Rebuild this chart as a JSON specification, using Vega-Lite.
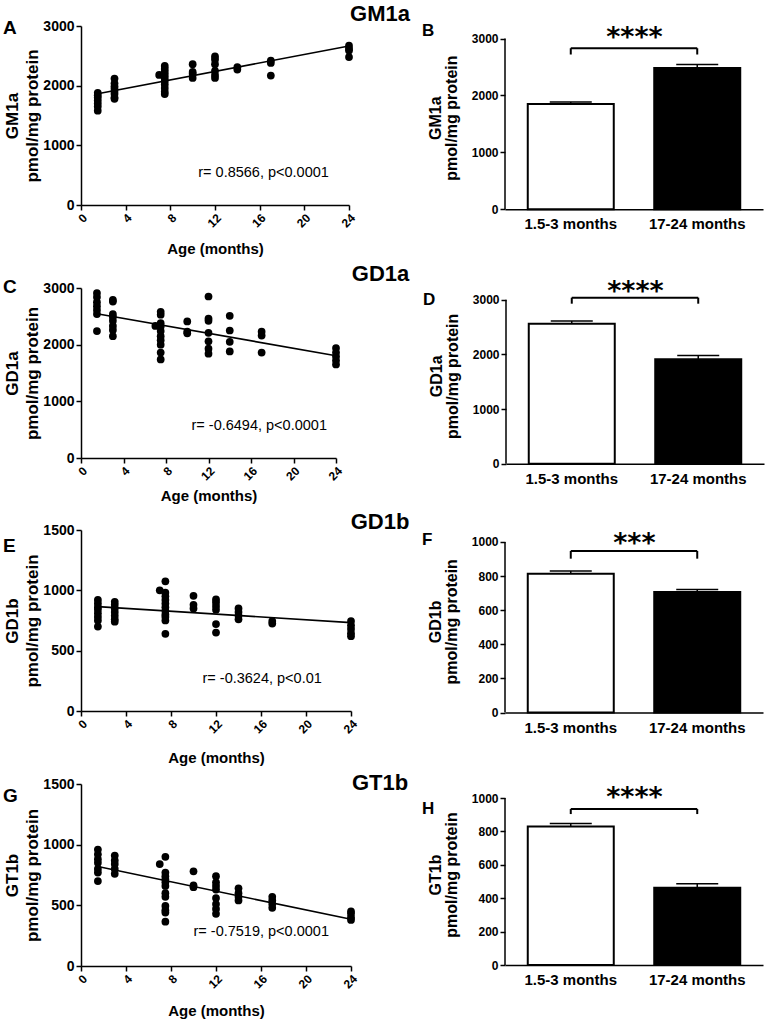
{
  "$schema": "https://vega.github.io/schema/vega-lite/v6.json",
  "padding": {"left": 3, "top": 2, "right": 4, "bottom": 1},
  "background": "white",
  "spacing": 6,
  "config": {
    "view": {"stroke": null},
    "font": "Liberation Sans",
    "axis": {"domainColor": "black", "domainWidth": 1.5, "tickColor": "black", "tickWidth": 1.5, "tickSize": 5, "labelFont": "Liberation Sans", "labelFontWeight": "bold", "labelColor": "black", "titleFont": "Liberation Sans", "titleFontWeight": "bold", "titleColor": "black", "grid": false, "labelPadding": 2, "labelFlush": false, "labelOverlap": false},
    "title": {"font": "Liberation Sans", "fontWeight": "bold", "color": "black"}
  },
  "datasets": {
    "pts": [
      {"g":"GM1a","age":1.5,"v":1880},{"g":"GM1a","age":1.5,"v":1840},{"g":"GM1a","age":1.5,"v":1800},{"g":"GM1a","age":1.5,"v":1750},{"g":"GM1a","age":1.5,"v":1700},{"g":"GM1a","age":1.5,"v":1650},{"g":"GM1a","age":1.5,"v":1580},
      {"g":"GM1a","age":3,"v":2120},{"g":"GM1a","age":3,"v":2040},{"g":"GM1a","age":3,"v":1990},{"g":"GM1a","age":3,"v":1950},{"g":"GM1a","age":3,"v":1900},{"g":"GM1a","age":3,"v":1860},{"g":"GM1a","age":3,"v":1800},{"g":"GM1a","age":3,"v":1780},
      {"g":"GM1a","age":7,"v":2180},
      {"g":"GM1a","age":7.5,"v":2330},{"g":"GM1a","age":7.5,"v":2280},{"g":"GM1a","age":7.5,"v":2230},{"g":"GM1a","age":7.5,"v":2180},{"g":"GM1a","age":7.5,"v":2130},{"g":"GM1a","age":7.5,"v":2080},{"g":"GM1a","age":7.5,"v":2020},{"g":"GM1a","age":7.5,"v":1960},{"g":"GM1a","age":7.5,"v":1900},{"g":"GM1a","age":7.5,"v":1860},
      {"g":"GM1a","age":10,"v":2360},{"g":"GM1a","age":10,"v":2230},{"g":"GM1a","age":10,"v":2200},{"g":"GM1a","age":10,"v":2130},
      {"g":"GM1a","age":12,"v":2490},{"g":"GM1a","age":12,"v":2440},{"g":"GM1a","age":12,"v":2360},{"g":"GM1a","age":12,"v":2250},{"g":"GM1a","age":12,"v":2180},{"g":"GM1a","age":12,"v":2130},
      {"g":"GM1a","age":14,"v":2310},{"g":"GM1a","age":14,"v":2270},
      {"g":"GM1a","age":17,"v":2420},{"g":"GM1a","age":17,"v":2380},{"g":"GM1a","age":17,"v":2170},
      {"g":"GM1a","age":24,"v":2670},{"g":"GM1a","age":24,"v":2620},{"g":"GM1a","age":24,"v":2590},{"g":"GM1a","age":24,"v":2480},

      {"g":"GD1a","age":1.5,"v":2910},{"g":"GD1a","age":1.5,"v":2840},{"g":"GD1a","age":1.5,"v":2750},{"g":"GD1a","age":1.5,"v":2680},{"g":"GD1a","age":1.5,"v":2610},{"g":"GD1a","age":1.5,"v":2540},{"g":"GD1a","age":1.5,"v":2240},
      {"g":"GD1a","age":3,"v":2790},{"g":"GD1a","age":3,"v":2760},{"g":"GD1a","age":3,"v":2540},{"g":"GD1a","age":3,"v":2490},{"g":"GD1a","age":3,"v":2420},{"g":"GD1a","age":3,"v":2330},{"g":"GD1a","age":3,"v":2260},{"g":"GD1a","age":3,"v":2150},
      {"g":"GD1a","age":7,"v":2330},
      {"g":"GD1a","age":7.5,"v":2580},{"g":"GD1a","age":7.5,"v":2530},{"g":"GD1a","age":7.5,"v":2380},{"g":"GD1a","age":7.5,"v":2320},{"g":"GD1a","age":7.5,"v":2240},{"g":"GD1a","age":7.5,"v":2150},{"g":"GD1a","age":7.5,"v":2080},{"g":"GD1a","age":7.5,"v":2000},{"g":"GD1a","age":7.5,"v":1860},{"g":"GD1a","age":7.5,"v":1740},
      {"g":"GD1a","age":10,"v":2410},{"g":"GD1a","age":10,"v":2230},{"g":"GD1a","age":10,"v":2200},
      {"g":"GD1a","age":12,"v":2850},{"g":"GD1a","age":12,"v":2460},{"g":"GD1a","age":12,"v":2420},{"g":"GD1a","age":12,"v":2210},{"g":"GD1a","age":12,"v":2060},{"g":"GD1a","age":12,"v":1930},{"g":"GD1a","age":12,"v":1840},
      {"g":"GD1a","age":14,"v":2510},{"g":"GD1a","age":14,"v":2250},{"g":"GD1a","age":14,"v":2050},{"g":"GD1a","age":14,"v":1880},
      {"g":"GD1a","age":17,"v":2230},{"g":"GD1a","age":17,"v":2160},{"g":"GD1a","age":17,"v":1860},
      {"g":"GD1a","age":24,"v":1940},{"g":"GD1a","age":24,"v":1860},{"g":"GD1a","age":24,"v":1790},{"g":"GD1a","age":24,"v":1720},{"g":"GD1a","age":24,"v":1650},

      {"g":"GD1b","age":1.5,"v":920},{"g":"GD1b","age":1.5,"v":890},{"g":"GD1b","age":1.5,"v":860},{"g":"GD1b","age":1.5,"v":840},{"g":"GD1b","age":1.5,"v":810},{"g":"GD1b","age":1.5,"v":780},{"g":"GD1b","age":1.5,"v":750},{"g":"GD1b","age":1.5,"v":700},
      {"g":"GD1b","age":3,"v":905},{"g":"GD1b","age":3,"v":880},{"g":"GD1b","age":3,"v":850},{"g":"GD1b","age":3,"v":820},{"g":"GD1b","age":3,"v":790},{"g":"GD1b","age":3,"v":760},{"g":"GD1b","age":3,"v":740},
      {"g":"GD1b","age":7,"v":1000},
      {"g":"GD1b","age":7.5,"v":1075},{"g":"GD1b","age":7.5,"v":980},{"g":"GD1b","age":7.5,"v":950},{"g":"GD1b","age":7.5,"v":920},{"g":"GD1b","age":7.5,"v":890},{"g":"GD1b","age":7.5,"v":860},{"g":"GD1b","age":7.5,"v":830},{"g":"GD1b","age":7.5,"v":800},{"g":"GD1b","age":7.5,"v":780},{"g":"GD1b","age":7.5,"v":750},{"g":"GD1b","age":7.5,"v":640},
      {"g":"GD1b","age":10,"v":955},{"g":"GD1b","age":10,"v":880},{"g":"GD1b","age":10,"v":850},
      {"g":"GD1b","age":12,"v":925},{"g":"GD1b","age":12,"v":900},{"g":"GD1b","age":12,"v":870},{"g":"GD1b","age":12,"v":840},{"g":"GD1b","age":12,"v":720},{"g":"GD1b","age":12,"v":650},
      {"g":"GD1b","age":14,"v":850},{"g":"GD1b","age":14,"v":820},{"g":"GD1b","age":14,"v":790},{"g":"GD1b","age":14,"v":760},
      {"g":"GD1b","age":17,"v":745},{"g":"GD1b","age":17,"v":725},
      {"g":"GD1b","age":24,"v":745},{"g":"GD1b","age":24,"v":710},{"g":"GD1b","age":24,"v":680},{"g":"GD1b","age":24,"v":645},{"g":"GD1b","age":24,"v":620},

      {"g":"GT1b","age":1.5,"v":960},{"g":"GT1b","age":1.5,"v":920},{"g":"GT1b","age":1.5,"v":880},{"g":"GT1b","age":1.5,"v":850},{"g":"GT1b","age":1.5,"v":800},{"g":"GT1b","age":1.5,"v":770},{"g":"GT1b","age":1.5,"v":700},
      {"g":"GT1b","age":3,"v":910},{"g":"GT1b","age":3,"v":870},{"g":"GT1b","age":3,"v":840},{"g":"GT1b","age":3,"v":800},{"g":"GT1b","age":3,"v":760},
      {"g":"GT1b","age":7,"v":840},
      {"g":"GT1b","age":7.5,"v":900},{"g":"GT1b","age":7.5,"v":770},{"g":"GT1b","age":7.5,"v":740},{"g":"GT1b","age":7.5,"v":715},{"g":"GT1b","age":7.5,"v":690},{"g":"GT1b","age":7.5,"v":660},{"g":"GT1b","age":7.5,"v":600},{"g":"GT1b","age":7.5,"v":570},{"g":"GT1b","age":7.5,"v":495},{"g":"GT1b","age":7.5,"v":460},{"g":"GT1b","age":7.5,"v":440},{"g":"GT1b","age":7.5,"v":365},
      {"g":"GT1b","age":10,"v":780},{"g":"GT1b","age":10,"v":665},{"g":"GT1b","age":10,"v":650},
      {"g":"GT1b","age":12,"v":740},{"g":"GT1b","age":12,"v":690},{"g":"GT1b","age":12,"v":660},{"g":"GT1b","age":12,"v":630},{"g":"GT1b","age":12,"v":560},{"g":"GT1b","age":12,"v":510},{"g":"GT1b","age":12,"v":470},{"g":"GT1b","age":12,"v":430},
      {"g":"GT1b","age":14,"v":640},{"g":"GT1b","age":14,"v":600},{"g":"GT1b","age":14,"v":570},{"g":"GT1b","age":14,"v":540},
      {"g":"GT1b","age":17,"v":570},{"g":"GT1b","age":17,"v":540},{"g":"GT1b","age":17,"v":510},{"g":"GT1b","age":17,"v":480},
      {"g":"GT1b","age":24,"v":450},{"g":"GT1b","age":24,"v":430},{"g":"GT1b","age":24,"v":400},{"g":"GT1b","age":24,"v":380}
    ],
    "fit": [
      {"g":"GM1a","age":1.5,"v":1865},{"g":"GM1a","age":24,"v":2665},
      {"g":"GD1a","age":1.5,"v":2545},{"g":"GD1a","age":24,"v":1805},
      {"g":"GD1b","age":1.5,"v":865},{"g":"GD1b","age":24,"v":732},
      {"g":"GT1b","age":1.5,"v":820},{"g":"GT1b","age":24,"v":385}
    ],
    "stats": [
      {"g":"GM1a","age":10.5,"v":536,"label":"r= 0.8566, p<0.0001"},
      {"g":"GD1a","age":10.4,"v":559,"label":"r= -0.6494, p<0.0001"},
      {"g":"GD1b","age":10.8,"v":262,"label":"r= -0.3624, p<0.01"},
      {"g":"GT1b","age":10.0,"v":281,"label":"r= -0.7519, p<0.0001"}
    ],
    "bars": [
      {"g":"GM1a","grp":"1.5-3 months","mean":1850,"upper":1885},
      {"g":"GM1a","grp":"17-24 months","mean":2485,"upper":2545},
      {"g":"GD1a","grp":"1.5-3 months","mean":2560,"upper":2610},
      {"g":"GD1a","grp":"17-24 months","mean":1910,"upper":1980},
      {"g":"GD1b","grp":"1.5-3 months","mean":814,"upper":830},
      {"g":"GD1b","grp":"17-24 months","mean":707,"upper":722},
      {"g":"GT1b","grp":"1.5-3 months","mean":830,"upper":848},
      {"g":"GT1b","grp":"17-24 months","mean":462,"upper":487}
    ],
    "sig": [
      {"g":"GM1a","a":"1.5-3 months","b":"17-24 months","top":2830,"bottom":2720,"star":2865,"axisbase":0,"axistop":3000,"label":"****"},
      {"g":"GD1a","a":"1.5-3 months","b":"17-24 months","top":3037,"bottom":2927,"star":3000,"axisbase":0,"axistop":3000,"label":"****"},
      {"g":"GD1b","a":"1.5-3 months","b":"17-24 months","top":947,"bottom":902,"star":943,"axisbase":0,"axistop":1000,"label":"***"},
      {"g":"GT1b","a":"1.5-3 months","b":"17-24 months","top":934,"bottom":904,"star":952,"axisbase":0,"axistop":1000,"label":"****"}
    ],
    "sigticks": [
      {"g":"GM1a","grp":"1.5-3 months","top":2830,"bottom":2720},{"g":"GM1a","grp":"17-24 months","top":2830,"bottom":2720},
      {"g":"GD1a","grp":"1.5-3 months","top":3037,"bottom":2927},{"g":"GD1a","grp":"17-24 months","top":3037,"bottom":2927},
      {"g":"GD1b","grp":"1.5-3 months","top":947,"bottom":902},{"g":"GD1b","grp":"17-24 months","top":947,"bottom":902},
      {"g":"GT1b","grp":"1.5-3 months","top":934,"bottom":904},{"g":"GT1b","grp":"17-24 months","top":934,"bottom":904}
    ]
  },
  "vconcat": [
    {
      "title": {"text": "GM1a", "fontSize": 22, "anchor": "middle", "dx": -3, "dy": 6.7, "offset": 0},
      "spacing": 65,
      "hconcat": [
        {
          "width": 268, "height": 179,
          "title": {"text": "A", "fontSize": 19, "anchor": "start", "frame": "group", "dx": -78, "dy": 19.1, "offset": 0},
          "layer": [
            {"data": {"name": "pts"}, "transform": [{"filter": "datum.g == 'GM1a'"}],
             "mark": {"type": "circle", "size": 60, "color": "black", "opacity": 1},
             "encoding": {
               "x": {"field": "age", "type": "quantitative", "scale": {"domain": [0, 24], "nice": false}, "axis": {"values": [0,4,8,12,16,20,24], "tickCount": 10, "format": "d", "labelAngle": -45, "labelFontSize": 12, "title": "Age (months)", "titleFontSize": 15, "titlePadding": 12}},
               "y": {"field": "v", "type": "quantitative", "scale": {"domain": [0, 3000], "nice": false}, "axis": {"values": [0,1000,2000,3000], "tickCount": 10, "format": "d", "labelFontSize": 14, "title": ["GM1a", "pmol/mg protein"], "titleFontSize": 17, "titleLineHeight": 20, "titlePadding": 1}}
             }},
            {"data": {"name": "fit"}, "transform": [{"filter": "datum.g == 'GM1a'"}],
             "mark": {"type": "line", "color": "black", "strokeWidth": 1.6},
             "encoding": {"x": {"field": "age", "type": "quantitative"}, "y": {"field": "v", "type": "quantitative"}}},
            {"data": {"name": "stats"}, "transform": [{"filter": "datum.g == 'GM1a'"}],
             "mark": {"type": "text", "align": "left", "baseline": "middle", "fontSize": 14.5, "font": "Liberation Sans", "color": "black"},
             "encoding": {"x": {"field": "age", "type": "quantitative"}, "y": {"field": "v", "type": "quantitative"}, "text": {"field": "label"}}}
          ]
        },
        {
          "width": 258, "height": 183.3,
          "title": {"text": "B", "fontSize": 17, "anchor": "start", "frame": "group", "dx": -83, "dy": 15.4, "offset": 0},
          "layer": [
            {"data": {"name": "bars"}, "transform": [{"filter": "datum.g == 'GM1a'"}],
             "mark": {"type": "bar", "stroke": "black", "strokeWidth": 2},
             "encoding": {
               "x": {"field": "grp", "type": "nominal", "scale": {"paddingInner": 0.32, "paddingOuter": 0.18}, "axis": {"labelAngle": 0, "labelFontSize": 15, "ticks": false, "title": null, "labelPadding": 7.5}},
               "y": {"field": "mean", "type": "quantitative", "scale": {"domain": [0, 3221], "nice": false}, "axis": {"values": [0,1000,2000,3000], "tickCount": 10, "format": "d", "domain": false, "labelOverlap": false, "labelFontSize": 12, "title": ["GM1a", "pmol/mg protein"], "titleFontSize": 16, "titleLineHeight": 16, "titlePadding": 12}},
               "fill": {"field": "grp", "type": "nominal", "scale": {"domain": ["1.5-3 months", "17-24 months"], "range": ["white", "black"]}, "legend": null}
             }},
            {"data": {"name": "sig"}, "transform": [{"filter": "datum.g == 'GM1a'"}],
             "mark": {"type": "rule", "color": "black", "strokeWidth": 1.5},
             "encoding": {"x": {"field": "a", "type": "nominal", "bandPosition": -0.2647}, "y": {"field": "axisbase", "type": "quantitative"}, "y2": {"field": "axistop"}}},
            {"data": {"name": "bars"}, "transform": [{"filter": "datum.g == 'GM1a'"}],
             "mark": {"type": "rule", "color": "black", "strokeWidth": 1.5},
             "encoding": {"x": {"field": "grp", "type": "nominal"}, "y": {"field": "mean", "type": "quantitative"}, "y2": {"field": "upper"}}},
            {"data": {"name": "bars"}, "transform": [{"filter": "datum.g == 'GM1a'"}],
             "mark": {"type": "tick", "color": "black", "size": 42, "thickness": 1.5, "opacity": 1},
             "encoding": {"x": {"field": "grp", "type": "nominal"}, "y": {"field": "upper", "type": "quantitative"}}},
            {"data": {"name": "sig"}, "transform": [{"filter": "datum.g == 'GM1a'"}],
             "mark": {"type": "rule", "color": "black", "strokeWidth": 2},
             "encoding": {"x": {"field": "a", "type": "nominal"}, "x2": {"field": "b"}, "y": {"field": "top", "type": "quantitative"}}},
            {"data": {"name": "sigticks"}, "transform": [{"filter": "datum.g == 'GM1a'"}],
             "mark": {"type": "rule", "color": "black", "strokeWidth": 2},
             "encoding": {"x": {"field": "grp", "type": "nominal"}, "y": {"field": "top", "type": "quantitative"}, "y2": {"field": "bottom"}}},
            {"data": {"name": "sig"}, "transform": [{"filter": "datum.g == 'GM1a'"}],
             "mark": {"type": "text", "font": "DejaVu Sans", "fontWeight": "bold", "fontSize": 27, "baseline": "alphabetic", "align": "center", "color": "black"},
             "encoding": {"x": {"field": "a", "type": "nominal", "bandPosition": 1.24}, "y": {"field": "star", "type": "quantitative"}, "text": {"field": "label"}}}
          ]
        }
      ]
    },
    {
      "title": {"text": "GD1a", "fontSize": 22, "anchor": "middle", "dx": -3, "dy": 8.6, "offset": 0},
      "spacing": 79,
      "hconcat": [
        {
          "width": 255, "height": 170,
          "title": {"text": "C", "fontSize": 19, "anchor": "start", "frame": "group", "dx": -78, "dy": 15.5, "offset": 0},
          "layer": [
            {"data": {"name": "pts"}, "transform": [{"filter": "datum.g == 'GD1a'"}],
             "mark": {"type": "circle", "size": 60, "color": "black", "opacity": 1},
             "encoding": {
               "x": {"field": "age", "type": "quantitative", "scale": {"domain": [0, 24], "nice": false}, "axis": {"values": [0,4,8,12,16,20,24], "tickCount": 10, "format": "d", "labelAngle": -45, "labelFontSize": 12, "title": "Age (months)", "titleFontSize": 15, "titlePadding": 6}},
               "y": {"field": "v", "type": "quantitative", "scale": {"domain": [0, 3000], "nice": false}, "axis": {"values": [0,1000,2000,3000], "tickCount": 10, "format": "d", "labelFontSize": 14, "title": ["GD1a", "pmol/mg protein"], "titleFontSize": 17, "titleLineHeight": 20, "titlePadding": 1}}
             }},
            {"data": {"name": "fit"}, "transform": [{"filter": "datum.g == 'GD1a'"}],
             "mark": {"type": "line", "color": "black", "strokeWidth": 1.6},
             "encoding": {"x": {"field": "age", "type": "quantitative"}, "y": {"field": "v", "type": "quantitative"}}},
            {"data": {"name": "stats"}, "transform": [{"filter": "datum.g == 'GD1a'"}],
             "mark": {"type": "text", "align": "left", "baseline": "middle", "fontSize": 14.5, "font": "Liberation Sans", "color": "black"},
             "encoding": {"x": {"field": "age", "type": "quantitative"}, "y": {"field": "v", "type": "quantitative"}, "text": {"field": "label"}}}
          ]
        },
        {
          "width": 258, "height": 175.7,
          "title": {"text": "D", "fontSize": 17, "anchor": "start", "frame": "group", "dx": -83, "dy": 31.4, "offset": 0},
          "layer": [
            {"data": {"name": "bars"}, "transform": [{"filter": "datum.g == 'GD1a'"}],
             "mark": {"type": "bar", "stroke": "black", "strokeWidth": 2},
             "encoding": {
               "x": {"field": "grp", "type": "nominal", "scale": {"paddingInner": 0.32, "paddingOuter": 0.18}, "axis": {"labelAngle": 0, "labelFontSize": 15, "ticks": false, "title": null, "labelPadding": 7.5}},
               "y": {"field": "mean", "type": "quantitative", "scale": {"domain": [0, 3214], "nice": false}, "axis": {"values": [0,1000,2000,3000], "tickCount": 10, "format": "d", "domain": false, "labelOverlap": false, "labelFontSize": 12, "title": ["GD1a", "pmol/mg protein"], "titleFontSize": 16, "titleLineHeight": 16, "titlePadding": 12}},
               "fill": {"field": "grp", "type": "nominal", "scale": {"domain": ["1.5-3 months", "17-24 months"], "range": ["white", "black"]}, "legend": null}
             }},
            {"data": {"name": "sig"}, "transform": [{"filter": "datum.g == 'GD1a'"}],
             "mark": {"type": "rule", "color": "black", "strokeWidth": 1.5},
             "encoding": {"x": {"field": "a", "type": "nominal", "bandPosition": -0.2647}, "y": {"field": "axisbase", "type": "quantitative"}, "y2": {"field": "axistop"}}},
            {"data": {"name": "bars"}, "transform": [{"filter": "datum.g == 'GD1a'"}],
             "mark": {"type": "rule", "color": "black", "strokeWidth": 1.5},
             "encoding": {"x": {"field": "grp", "type": "nominal"}, "y": {"field": "mean", "type": "quantitative"}, "y2": {"field": "upper"}}},
            {"data": {"name": "bars"}, "transform": [{"filter": "datum.g == 'GD1a'"}],
             "mark": {"type": "tick", "color": "black", "size": 42, "thickness": 1.5, "opacity": 1},
             "encoding": {"x": {"field": "grp", "type": "nominal"}, "y": {"field": "upper", "type": "quantitative"}}},
            {"data": {"name": "sig"}, "transform": [{"filter": "datum.g == 'GD1a'"}],
             "mark": {"type": "rule", "color": "black", "strokeWidth": 2},
             "encoding": {"x": {"field": "a", "type": "nominal"}, "x2": {"field": "b"}, "y": {"field": "top", "type": "quantitative"}}},
            {"data": {"name": "sigticks"}, "transform": [{"filter": "datum.g == 'GD1a'"}],
             "mark": {"type": "rule", "color": "black", "strokeWidth": 2},
             "encoding": {"x": {"field": "grp", "type": "nominal"}, "y": {"field": "top", "type": "quantitative"}, "y2": {"field": "bottom"}}},
            {"data": {"name": "sig"}, "transform": [{"filter": "datum.g == 'GD1a'"}],
             "mark": {"type": "text", "font": "DejaVu Sans", "fontWeight": "bold", "fontSize": 27, "baseline": "alphabetic", "align": "center", "color": "black"},
             "encoding": {"x": {"field": "a", "type": "nominal", "bandPosition": 1.24}, "y": {"field": "star", "type": "quantitative"}, "text": {"field": "label"}}}
          ]
        }
      ]
    },
    {
      "title": {"text": "GD1b", "fontSize": 22, "anchor": "middle", "dx": -3, "dy": 10.7, "offset": 0},
      "spacing": 63,
      "hconcat": [
        {
          "width": 270, "height": 181,
          "title": {"text": "E", "fontSize": 19, "anchor": "start", "frame": "group", "dx": -78, "dy": 33.4, "offset": 0},
          "layer": [
            {"data": {"name": "pts"}, "transform": [{"filter": "datum.g == 'GD1b'"}],
             "mark": {"type": "circle", "size": 60, "color": "black", "opacity": 1},
             "encoding": {
               "x": {"field": "age", "type": "quantitative", "scale": {"domain": [0, 24], "nice": false}, "axis": {"values": [0,4,8,12,16,20,24], "tickCount": 10, "format": "d", "labelAngle": -45, "labelFontSize": 12, "title": "Age (months)", "titleFontSize": 15, "titlePadding": 15}},
               "y": {"field": "v", "type": "quantitative", "scale": {"domain": [0, 1500], "nice": false}, "axis": {"values": [0,500,1000,1500], "tickCount": 10, "format": "d", "labelFontSize": 14, "title": ["GD1b", "pmol/mg protein"], "titleFontSize": 17, "titleLineHeight": 20, "titlePadding": 1}}
             }},
            {"data": {"name": "fit"}, "transform": [{"filter": "datum.g == 'GD1b'"}],
             "mark": {"type": "line", "color": "black", "strokeWidth": 1.6},
             "encoding": {"x": {"field": "age", "type": "quantitative"}, "y": {"field": "v", "type": "quantitative"}}},
            {"data": {"name": "stats"}, "transform": [{"filter": "datum.g == 'GD1b'"}],
             "mark": {"type": "text", "align": "left", "baseline": "middle", "fontSize": 14.5, "font": "Liberation Sans", "color": "black"},
             "encoding": {"x": {"field": "age", "type": "quantitative"}, "y": {"field": "v", "type": "quantitative"}, "text": {"field": "label"}}}
          ]
        },
        {
          "width": 258, "height": 182.6,
          "title": {"text": "F", "fontSize": 17, "anchor": "start", "frame": "group", "dx": -83, "dy": 19.7, "offset": 0},
          "layer": [
            {"data": {"name": "bars"}, "transform": [{"filter": "datum.g == 'GD1b'"}],
             "mark": {"type": "bar", "stroke": "black", "strokeWidth": 2},
             "encoding": {
               "x": {"field": "grp", "type": "nominal", "scale": {"paddingInner": 0.32, "paddingOuter": 0.18}, "axis": {"labelAngle": 0, "labelFontSize": 15, "ticks": false, "title": null, "labelPadding": 7.5}},
               "y": {"field": "mean", "type": "quantitative", "scale": {"domain": [0, 1070], "nice": false}, "axis": {"values": [0,200,400,600,800,1000], "tickCount": 10, "format": "d", "domain": false, "labelOverlap": false, "labelFontSize": 12, "title": ["GD1b", "pmol/mg protein"], "titleFontSize": 16, "titleLineHeight": 16, "titlePadding": 12}},
               "fill": {"field": "grp", "type": "nominal", "scale": {"domain": ["1.5-3 months", "17-24 months"], "range": ["white", "black"]}, "legend": null}
             }},
            {"data": {"name": "sig"}, "transform": [{"filter": "datum.g == 'GD1b'"}],
             "mark": {"type": "rule", "color": "black", "strokeWidth": 1.5},
             "encoding": {"x": {"field": "a", "type": "nominal", "bandPosition": -0.2647}, "y": {"field": "axisbase", "type": "quantitative"}, "y2": {"field": "axistop"}}},
            {"data": {"name": "bars"}, "transform": [{"filter": "datum.g == 'GD1b'"}],
             "mark": {"type": "rule", "color": "black", "strokeWidth": 1.5},
             "encoding": {"x": {"field": "grp", "type": "nominal"}, "y": {"field": "mean", "type": "quantitative"}, "y2": {"field": "upper"}}},
            {"data": {"name": "bars"}, "transform": [{"filter": "datum.g == 'GD1b'"}],
             "mark": {"type": "tick", "color": "black", "size": 42, "thickness": 1.5, "opacity": 1},
             "encoding": {"x": {"field": "grp", "type": "nominal"}, "y": {"field": "upper", "type": "quantitative"}}},
            {"data": {"name": "sig"}, "transform": [{"filter": "datum.g == 'GD1b'"}],
             "mark": {"type": "rule", "color": "black", "strokeWidth": 2},
             "encoding": {"x": {"field": "a", "type": "nominal"}, "x2": {"field": "b"}, "y": {"field": "top", "type": "quantitative"}}},
            {"data": {"name": "sigticks"}, "transform": [{"filter": "datum.g == 'GD1b'"}],
             "mark": {"type": "rule", "color": "black", "strokeWidth": 2},
             "encoding": {"x": {"field": "grp", "type": "nominal"}, "y": {"field": "top", "type": "quantitative"}, "y2": {"field": "bottom"}}},
            {"data": {"name": "sig"}, "transform": [{"filter": "datum.g == 'GD1b'"}],
             "mark": {"type": "text", "font": "DejaVu Sans", "fontWeight": "bold", "fontSize": 27, "baseline": "alphabetic", "align": "center", "color": "black"},
             "encoding": {"x": {"field": "a", "type": "nominal", "bandPosition": 1.24}, "y": {"field": "star", "type": "quantitative"}, "text": {"field": "label"}}}
          ]
        }
      ]
    },
    {
      "title": {"text": "GT1b", "fontSize": 22, "anchor": "middle", "dx": -3, "dy": 18.4, "offset": 0},
      "spacing": 63,
      "hconcat": [
        {
          "width": 270, "height": 182,
          "title": {"text": "G", "fontSize": 19, "anchor": "start", "frame": "group", "dx": -78, "dy": 28.8, "offset": 0},
          "layer": [
            {"data": {"name": "pts"}, "transform": [{"filter": "datum.g == 'GT1b'"}],
             "mark": {"type": "circle", "size": 60, "color": "black", "opacity": 1},
             "encoding": {
               "x": {"field": "age", "type": "quantitative", "scale": {"domain": [0, 24], "nice": false}, "axis": {"values": [0,4,8,12,16,20,24], "tickCount": 10, "format": "d", "labelAngle": -45, "labelFontSize": 12, "title": "Age (months)", "titleFontSize": 15, "titlePadding": 13}},
               "y": {"field": "v", "type": "quantitative", "scale": {"domain": [0, 1500], "nice": false}, "axis": {"values": [0,500,1000,1500], "tickCount": 10, "format": "d", "labelFontSize": 14, "title": ["GT1b", "pmol/mg protein"], "titleFontSize": 17, "titleLineHeight": 20, "titlePadding": 1}}
             }},
            {"data": {"name": "fit"}, "transform": [{"filter": "datum.g == 'GT1b'"}],
             "mark": {"type": "line", "color": "black", "strokeWidth": 1.6},
             "encoding": {"x": {"field": "age", "type": "quantitative"}, "y": {"field": "v", "type": "quantitative"}}},
            {"data": {"name": "stats"}, "transform": [{"filter": "datum.g == 'GT1b'"}],
             "mark": {"type": "text", "align": "left", "baseline": "middle", "fontSize": 14.5, "font": "Liberation Sans", "color": "black"},
             "encoding": {"x": {"field": "age", "type": "quantitative"}, "y": {"field": "v", "type": "quantitative"}, "text": {"field": "label"}}}
          ]
        },
        {
          "width": 258, "height": 181,
          "title": {"text": "H", "fontSize": 17, "anchor": "start", "frame": "group", "dx": -83, "dy": 34.4, "offset": 0},
          "layer": [
            {"data": {"name": "bars"}, "transform": [{"filter": "datum.g == 'GT1b'"}],
             "mark": {"type": "bar", "stroke": "black", "strokeWidth": 2},
             "encoding": {
               "x": {"field": "grp", "type": "nominal", "scale": {"paddingInner": 0.32, "paddingOuter": 0.18}, "axis": {"labelAngle": 0, "labelFontSize": 15, "ticks": false, "title": null, "labelPadding": 7.5}},
               "y": {"field": "mean", "type": "quantitative", "scale": {"domain": [0, 1084], "nice": false}, "axis": {"values": [0,200,400,600,800,1000], "tickCount": 10, "format": "d", "domain": false, "labelOverlap": false, "labelFontSize": 12, "title": ["GT1b", "pmol/mg protein"], "titleFontSize": 16, "titleLineHeight": 16, "titlePadding": 12}},
               "fill": {"field": "grp", "type": "nominal", "scale": {"domain": ["1.5-3 months", "17-24 months"], "range": ["white", "black"]}, "legend": null}
             }},
            {"data": {"name": "sig"}, "transform": [{"filter": "datum.g == 'GT1b'"}],
             "mark": {"type": "rule", "color": "black", "strokeWidth": 1.5},
             "encoding": {"x": {"field": "a", "type": "nominal", "bandPosition": -0.2647}, "y": {"field": "axisbase", "type": "quantitative"}, "y2": {"field": "axistop"}}},
            {"data": {"name": "bars"}, "transform": [{"filter": "datum.g == 'GT1b'"}],
             "mark": {"type": "rule", "color": "black", "strokeWidth": 1.5},
             "encoding": {"x": {"field": "grp", "type": "nominal"}, "y": {"field": "mean", "type": "quantitative"}, "y2": {"field": "upper"}}},
            {"data": {"name": "bars"}, "transform": [{"filter": "datum.g == 'GT1b'"}],
             "mark": {"type": "tick", "color": "black", "size": 42, "thickness": 1.5, "opacity": 1},
             "encoding": {"x": {"field": "grp", "type": "nominal"}, "y": {"field": "upper", "type": "quantitative"}}},
            {"data": {"name": "sig"}, "transform": [{"filter": "datum.g == 'GT1b'"}],
             "mark": {"type": "rule", "color": "black", "strokeWidth": 2},
             "encoding": {"x": {"field": "a", "type": "nominal"}, "x2": {"field": "b"}, "y": {"field": "top", "type": "quantitative"}}},
            {"data": {"name": "sigticks"}, "transform": [{"filter": "datum.g == 'GT1b'"}],
             "mark": {"type": "rule", "color": "black", "strokeWidth": 2},
             "encoding": {"x": {"field": "grp", "type": "nominal"}, "y": {"field": "top", "type": "quantitative"}, "y2": {"field": "bottom"}}},
            {"data": {"name": "sig"}, "transform": [{"filter": "datum.g == 'GT1b'"}],
             "mark": {"type": "text", "font": "DejaVu Sans", "fontWeight": "bold", "fontSize": 27, "baseline": "alphabetic", "align": "center", "color": "black"},
             "encoding": {"x": {"field": "a", "type": "nominal", "bandPosition": 1.24}, "y": {"field": "star", "type": "quantitative"}, "text": {"field": "label"}}}
          ]
        }
      ]
    }
  ]
}
